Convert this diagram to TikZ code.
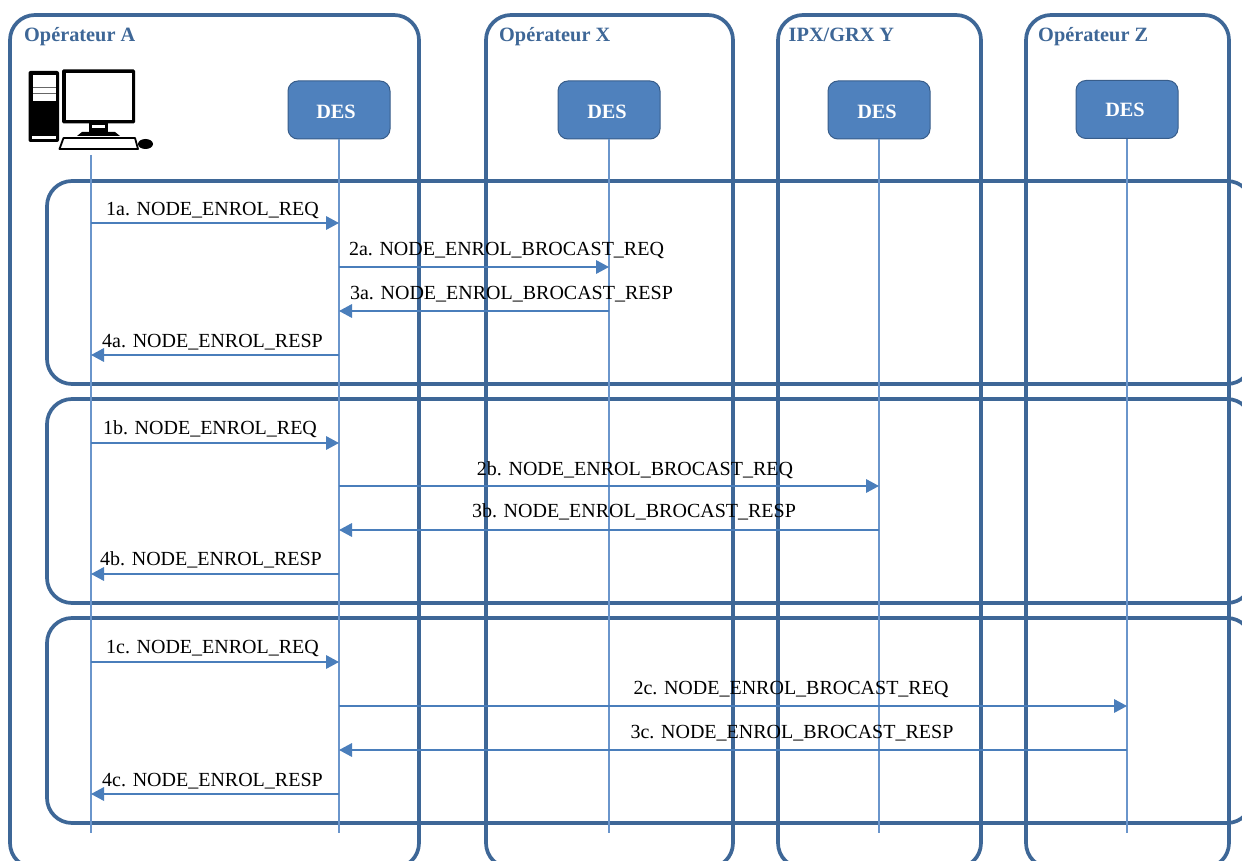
\documentclass[tikz,border=0pt]{standalone}
\usepackage{fontspec}
\setmainfont{Liberation Serif}
\usetikzlibrary{arrows.meta}
\definecolor{panelblue}{HTML}{3E6797}
\definecolor{boxfill}{HTML}{4F81BD}
\definecolor{boxline}{HTML}{385D8A}
\definecolor{lifeblue}{HTML}{6A95CB}
\definecolor{arrowblue}{HTML}{4A7EBB}
\newcommand{\msgtext}{\fontsize{20}{22}\selectfont}
\newcommand{\headtext}{\fontsize{20.3}{22}\selectfont\bfseries}
\tikzset{
  panel/.style={draw=panelblue,line width=3.7pt,rounded corners=25pt},
  desbox/.style={draw=boxline,line width=1pt,fill=boxfill,rounded corners=10pt,
    minimum width=102pt,minimum height=58pt,inner sep=0pt},
  destext/.style={text=white,inner sep=0pt,font=\headtext},
  headlabel/.style={text=panelblue,anchor=base west,inner sep=0pt,font=\headtext},
  msglabel/.style={text=black,inner sep=0pt,anchor=base,font=\msgtext},
  lifeline/.style={draw=lifeblue,line width=1.3pt},
  msgarrow/.style={draw=arrowblue,line width=1.8pt,-{Triangle[length=13pt,width=13.5pt]},shorten >=0pt},
  inkfill/.style={fill=black,draw=none}
}
\newcommand{\msgarrowlabel}[7]{%
  \coordinate (#1s) at (#2,#4);
  \coordinate (#1e) at (#3,#4);
  \draw[msgarrow] (#1s) -- (#1e);
  \node[msglabel] (#1t) at (#6,#7) {#5};
}
\begin{document}
\begin{tikzpicture}[x=1pt,y=-1pt]
\useasboundingbox (0,0) rectangle (1242,861);
\clip (0,0) rectangle (1242,861);
\fill[white] (0,0) rectangle (1242,861);

% vertical operator panels
\draw[panel] (10,15) rectangle (419,868);
\draw[panel] (486,15) rectangle (733,868);
\draw[panel] (778,15) rectangle (981,868);
\draw[panel] (1026,15) rectangle (1229,868);

% horizontal scenario panels
\draw[panel] (47,181) rectangle (1252,384);
\draw[panel] (47,399) rectangle (1252,603);
\draw[panel] (47,618) rectangle (1252,823);

% headers
\node[headlabel] (hA) at (24,42) {Opérateur A};
\node[headlabel] (hX) at (499,42) {Opérateur X};
\node[headlabel] (hY) at (788.5,42) {IPX/GRX Y};
\node[headlabel] (hZ) at (1038,42) {Opérateur Z};

% DES boxes
\node[desbox] (dA) at (339,110) {};
\node[desbox] (dX) at (609,110) {};
\node[desbox] (dY) at (879,110) {};
\node[desbox] (dZ) at (1127,109.5) {};
\node[destext] (tA) at (336,112) {DES};
\node[destext] (tX) at (607,112) {DES};
\node[destext] (tY) at (877,112) {DES};
\node[destext] (tZ) at (1125,110) {DES};

% computer icon
\fill[inkfill,rounded corners=2pt] (28.5,71) rectangle (59,142);
\fill[white] (32.5,75) rectangle (55.5,101);
\fill[black!60] (32.5,87) rectangle (55.5,88);
\fill[black!60] (32.5,93.5) rectangle (55.5,94.5);
\fill[white] (32,136) rectangle (56,139);
\fill[inkfill,rounded corners=1.5pt] (62,69.5) rectangle (135,123.5);
\fill[white] (66,73) rectangle (132,120);
\fill[inkfill] (89,123) rectangle (108,132);
\fill[white] (92,125) rectangle (105,128.5);
\fill[inkfill] (82,132) -- (115,132) -- (120,136) -- (77,136) -- cycle;
\draw[black,line width=1.8pt,fill=white,line join=round] (63.5,138) -- (135,138) -- (138,149) -- (59.5,149) -- cycle;
\fill[inkfill] (145.5,144) ellipse [x radius=7.5pt,y radius=5pt];

% lifelines
\coordinate (pc) at (91,155);
\coordinate (eA) at (91,833);
\coordinate (eB) at (339,833);
\coordinate (eX) at (609,833);
\coordinate (eY) at (879,833);
\coordinate (eZ) at (1127,833);
\draw[lifeline] (pc) -- (eA);
\draw[lifeline] (dA.south) -- (eB);
\draw[lifeline] (dX.south) -- (eX);
\draw[lifeline] (dY.south) -- (eY);
\draw[lifeline] (dZ.south) -- (eZ);

% messages
\msgarrowlabel{m1a}{91}{339}{223}{1a. NODE\_ENROL\_REQ}{212.5}{216}
\msgarrowlabel{m2a}{339}{609}{267}{2a. NODE\_ENROL\_BROCAST\_REQ}{506.5}{255}
\msgarrowlabel{m3a}{609}{339}{311}{3a. NODE\_ENROL\_BROCAST\_RESP}{511.5}{299}
\msgarrowlabel{m4a}{339}{91}{355}{4a. NODE\_ENROL\_RESP}{212.5}{347}

\msgarrowlabel{m1b}{91}{339}{443}{1b. NODE\_ENROL\_REQ}{210}{434}
\msgarrowlabel{m2b}{339}{879}{486}{2b. NODE\_ENROL\_BROCAST\_REQ}{635}{475}
\msgarrowlabel{m3b}{879}{339}{530}{3b. NODE\_ENROL\_BROCAST\_RESP}{634}{517}
\msgarrowlabel{m4b}{339}{91}{574}{4b. NODE\_ENROL\_RESP}{211}{565}

\msgarrowlabel{m1c}{91}{339}{662}{1c. NODE\_ENROL\_REQ}{212.5}{653}
\msgarrowlabel{m2c}{339}{1127}{706}{2c. NODE\_ENROL\_BROCAST\_REQ}{791}{694}
\msgarrowlabel{m3c}{1127}{339}{750}{3c. NODE\_ENROL\_BROCAST\_RESP}{792}{738}
\msgarrowlabel{m4c}{339}{91}{794}{4c. NODE\_ENROL\_RESP}{212.5}{786}
\end{tikzpicture}
\end{document}
